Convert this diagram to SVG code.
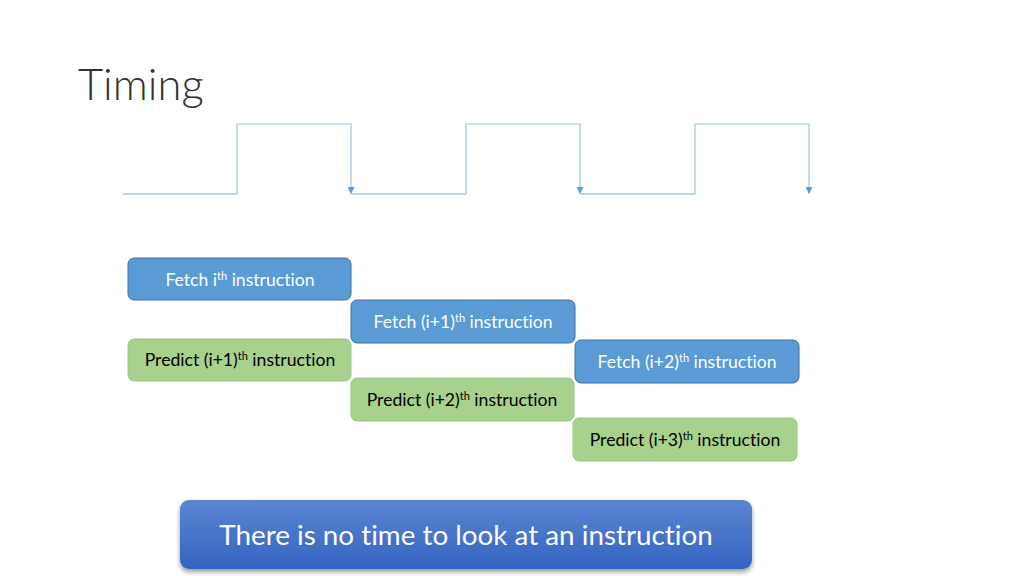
<svg xmlns="http://www.w3.org/2000/svg" width="1024" height="576" viewBox="0 0 1024 576">
<style>
text{font-variant-ligatures:none;font-feature-settings:"liga" 0}
.low{stroke:#bdd7ee;stroke-width:2;fill:none}
.hi{stroke:#9dc3e6;stroke-width:1.2;fill:none}
.fetch rect{fill:#5b9bd5;stroke:#41719c;stroke-width:1}
.pred rect{fill:#a9d18e;stroke:#9cc683;stroke-width:1}
.lbl{font-family:Lato,"Open Sans",sans-serif;font-size:17.6px;text-anchor:middle}
.fetch text{fill:#ffffff}
.pred text{fill:#000000}
.sup{font-size:11px}
</style>
<defs>
<marker id="arr" viewBox="0 0 10 10" refX="10" refY="5" markerWidth="7" markerHeight="7" markerUnits="userSpaceOnUse" orient="auto">
<path d="M0,0 L10,5 L0,10 Z" fill="#5b9bd5"/>
</marker>
<linearGradient id="bg" x1="0" y1="0" x2="0" y2="1">
<stop offset="0" stop-color="#5b86d3"/>
<stop offset="1" stop-color="#3463c0"/>
</linearGradient>
<filter id="sh" x="-5%" y="-20%" width="110%" height="150%">
<feDropShadow dx="0" dy="3" stdDeviation="2.5" flood-color="#000" flood-opacity="0.4"/>
</filter>
</defs>
<rect width="1024" height="576" fill="#ffffff"/>
<text x="78" y="100" font-family="Lato,'Open Sans',sans-serif" font-weight="300" font-size="43.5" fill="#333333">Timing</text>
<g id="connectors">
<path class="low" d="M123,194 H237"/>
<path class="hi" d="M237,194 V124 H351 V194" marker-end="url(#arr)"/>
<path class="low" d="M351,194 H466"/>
<path class="hi" d="M466,194 V124 H580 V194" marker-end="url(#arr)"/>
<path class="low" d="M580,194 H695"/>
<path class="hi" d="M695,194 V124 H809 V194" marker-end="url(#arr)"/>
</g>
<g id="fetch-i" class="fetch"><rect x="128" y="258" width="223" height="42" rx="6"/><text class="lbl" x="240" y="286">Fetch i<tspan class="sup" dy="-6">th</tspan><tspan dy="6"> instruction</tspan></text></g>
<g id="fetch-i1" class="fetch"><rect x="351" y="300" width="224" height="43" rx="6"/><text class="lbl" x="463" y="328">Fetch (i+1)<tspan class="sup" dy="-6">th</tspan><tspan dy="6"> instruction</tspan></text></g>
<g id="fetch-i2" class="fetch"><rect x="575" y="340" width="224" height="43" rx="6"/><text class="lbl" x="687" y="368">Fetch (i+2)<tspan class="sup" dy="-6">th</tspan><tspan dy="6"> instruction</tspan></text></g>
<g id="predict-i1" class="pred"><rect x="128" y="339" width="223" height="42" rx="6"/><text class="lbl" x="240" y="366">Predict (i+1)<tspan class="sup" dy="-6">th</tspan><tspan dy="6"> instruction</tspan></text></g>
<g id="predict-i2" class="pred"><rect x="351" y="378" width="223" height="43" rx="6"/><text class="lbl" x="462" y="406">Predict (i+2)<tspan class="sup" dy="-6">th</tspan><tspan dy="6"> instruction</tspan></text></g>
<g id="predict-i3" class="pred"><rect x="573" y="418" width="224" height="43" rx="6"/><text class="lbl" x="685" y="446">Predict (i+3)<tspan class="sup" dy="-6">th</tspan><tspan dy="6"> instruction</tspan></text></g>
<g id="note"><rect x="180" y="500" width="572" height="69" rx="9" fill="url(#bg)" filter="url(#sh)"/><text x="466" y="545" font-family="Lato,'Open Sans',sans-serif" font-size="27.8" fill="#ffffff" text-anchor="middle">There is no time to look at an instruction</text></g>
</svg>
